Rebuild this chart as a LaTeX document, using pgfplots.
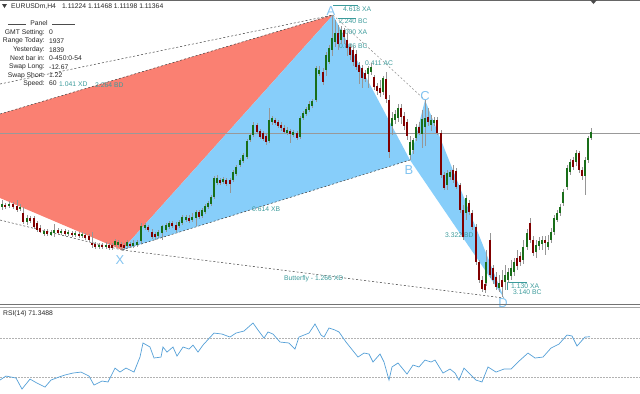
\documentclass[border=0pt]{standalone}
\usepackage{fontspec}
\setmainfont{Liberation Sans}
\usepackage{pgfplots}
\usepackage{pgfplotstable}
\pgfplotsset{compat=1.18}
\definecolor{salmonred}{RGB}{250,128,114}
\definecolor{skyb}{RGB}{135,206,250}
\definecolor{lett}{RGB}{130,195,240}
\definecolor{tealt}{RGB}{60,155,155}
\definecolor{upg}{RGB}{25,110,25}
\definecolor{dnr}{RGB}{128,0,0}
\definecolor{wick}{RGB}{150,150,150}
\definecolor{rsiblue}{RGB}{85,160,215}
\tikzset{
  lab/.style={font=\fontsize{6.8}{8}\selectfont, inner sep=0pt, text=black!85},
  tl/.style={font=\fontsize{6.8}{8}\selectfont, inner sep=0pt, text=tealt},
  big/.style={font=\fontsize{13}{14}\selectfont, inner sep=0pt, text=lett},
  dashln/.style={black!75, line width=0.5bp, dash pattern=on 2bp off 2bp},
}
\pgfplotstableread{
x bt bb h l
2 204 207 200 210
9 204 206 201 208
20 207 209 204 211
27 218 222 215 225
44 231 234 229 236
51 232 235 230 236
54 230 233 224 237
61 231 233 229 235
68 232 234 230 236
75 233 235 231 237
82 234 236 232 238
99 245 247 243 249
106 245 247 242 249
115 241 245 239 247
118 242 245 240 247
127 242 246 240 248
133 243 246 240 248
137 242 245 240 247
141 226 241 223 243
145 225 228 223 230
158 232 236 230 238
162 226 233 225 240
166 225 230 223 232
169 223 227 221 229
179 222 226 220 228
182 217 223 215 225
186 217 220 215 222
192 217 220 213 222
196 212 218 210 226
202 210 216 208 218
205 206 212 204 214
208 203 207 201 209
211 197 204 195 206
214 178 197 176 199
217 178 183 175 185
223 179 182 177 184
233 172 180 170 182
236 167 174 165 176
240 160 165 158 167
243 155 161 153 163
247 141 157 139 159
250 135 140 133 142
253 125 135 122 137
269 120 141 108 143
272 118 122 116 125
287 130 133 127 135
293 132 135 130 137
300 118 137 116 139
303 113 118 111 120
306 109 114 107 116
309 104 110 101 112
312 101 106 99 108
316 68 100 66 102
319 70 74 66 76
326 55 70 52 76
329 48 62 45 64
332 38 50 15 56
335 33 42 20 47
341 30 40 26 44
368 68 74 66 88
371 67 72 63 75
383 78 92 76 95
392 118 126 112 135
395 114 120 110 124
398 108 118 104 122
410 142 155 136 160
413 140 150 138 154
416 127 138 124 141
422 119 134 110 148
425 118 127 100 146
431 120 125 115 131
434 120 123 117 126
447 173 185 170 190
450 172 177 170 180
466 198 213 195 220
486 262 283 250 286
499 283 288 275 292
505 275 282 265 290
508 272 280 268 283
511 268 276 260 280
514 262 272 258 276
523 247 260 240 264
527 233 247 229 250
536 245 252 240 258
539 241 246 237 250
542 240 244 236 250
548 242 247 235 250
551 232 240 228 243
554 218 232 215 235
557 213 220 210 222
560 207 213 204 216
563 192 203 189 206
567 168 187 165 190
570 162 172 159 175
576 153 162 150 166
585 160 176 157 195
588 138 160 136 163
591 132 138 128 140
}\G
\pgfplotstableread{
x bt bb h l
5 205 207 203 209
13 204 207 202 209
17 206 210 200 212
23 213 222 207 224
30 218 221 216 223
34 218 227 216 229
37 223 230 221 232
40 228 232 225 233
47 231 234 229 236
58 230 233 228 235
65 231 234 229 236
72 233 235 231 237
79 234 236 232 238
85 235 238 233 240
89 236 240 234 242
92 243 245 232 248
95 244 247 242 249
102 245 247 243 249
109 245 248 243 250
112 245 248 243 250
121 244 247 242 249
124 245 248 243 250
130 244 246 242 248
148 227 230 225 232
152 232 237 229 239
155 234 237 232 240
172 223 226 221 228
176 225 230 222 232
189 218 221 215 223
199 212 217 210 219
220 180 183 178 185
226 180 184 178 186
230 180 184 178 193
257 125 132 123 134
260 131 137 129 139
263 133 139 131 141
266 136 142 134 145
275 120 123 118 125
278 122 126 120 128
281 125 128 122 131
284 128 132 125 134
290 131 134 129 143
297 133 138 131 140
323 72 82 68 85
338 33 44 25 50
344 30 37 28 44
347 40 48 33 56
350 47 55 44 60
353 50 62 46 66
356 54 67 50 70
359 65 72 62 84
362 68 78 65 88
365 73 79 70 82
374 77 87 75 90
377 86 91 83 95
380 88 93 80 97
386 79 99 72 103
389 100 152 95 158
401 108 117 104 124
404 116 126 112 130
407 122 136 119 140
419 127 133 122 135
428 117 122 108 126
437 120 133 117 135
441 133 175 130 178
444 175 188 172 190
453 170 180 165 183
456 171 187 168 189
460 185 210 183 213
463 210 237 205 240
469 203 212 200 215
472 213 227 210 230
476 227 262 224 265
479 262 280 260 283
482 280 289 276 292
485 284 290 280 293
490 240 275 233 278
493 268 280 265 284
496 277 287 272 290
502 280 287 270 297
517 258 266 250 270
520 256 262 252 266
530 223 240 218 243
533 240 253 236 256
545 240 243 236 255
573 160 167 157 170
579 153 170 151 173
582 170 176 167 180
}\R
\pgfplotstableread{
x r
0 26.9
6 31.0
16 29.0
22 17.7
30 27.9
37 23.8
45 19.7
51 26.9
59 30.0
65 32.1
73 34.1
81 35.1
89 31.0
94 21.8
102 25.9
108 24.9
115 39.2
120 35.1
126 39.2
134 35.1
140 50.5
143 64.9
150 60.8
154 49.5
161 50.5
163 60.8
167 55.6
173 60.8
177 51.5
183 60.8
189 58.7
193 62.8
198 55.6
203 62.8
214 75.1
222 74.1
230 71.0
236 75.1
244 77.2
253 85.4
258 78.2
264 70.0
268 76.2
273 74.1
280 65.9
289 64.9
295 58.7
299 71.0
309 75.1
315 84.4
321 73.1
324 71.0
329 80.3
335 78.2
339 76.2
346 65.9
358 50.5
364 54.6
369 53.6
373 45.4
380 53.6
384 45.4
389 26.9
392 40.3
398 44.4
407 33.1
413 42.3
419 40.3
425 47.4
431 45.4
435 47.4
443 34.1
450 38.2
455 34.1
459 26.9
464 39.2
472 31.0
476 26.9
482 24.9
488 40.3
496 35.1
504 38.2
511 38.2
518 45.4
528 54.6
535 49.5
543 50.5
551 59.7
559 63.8
567 73.1
572 72.1
577 61.8
585 71.0
590 71.35
}\RSI
\begin{document}
\begin{tikzpicture}
\path[use as bounding box] (0,0) rectangle (640bp,-394bp);
\begin{axis}[at={(0,0)}, anchor=north west, scale only axis,
  width=640bp, height=304bp, xmin=0, xmax=640, ymin=0, ymax=304,
  y dir=reverse, hide axis, clip=false]
% harmonic pattern fills
\addplot[fill=salmonred, draw=none] coordinates {(0,114) (333,15) (122,250) (0,198)};
\addplot[fill=skyb, draw=none] coordinates {(122,250) (333,15) (410,160)};
\addplot[fill=skyb, draw=none] coordinates {(410,160) (425,100) (504,298)};
% dashed lines
\addplot[dashln] coordinates {(0,84) (333,15)};
\addplot[dashln] coordinates {(0,114) (333,15)};
\addplot[dashln] coordinates {(0,220) (122,250)};
\addplot[dashln] coordinates {(122,250) (410,160)};
\addplot[dashln] coordinates {(122,250) (504,298)};
\addplot[dashln, black!45] coordinates {(333,15) (425,100)};
% price line
\addplot[black!40, line width=0.7bp] coordinates {(0,133) (640,133)};
% teal labels
\addplot[tealt, line width=0.5bp] coordinates {(333,5.5) (358,5.5)};
\addplot[tealt, line width=0.5bp] coordinates {(338,18) (356,18)};
\addplot[tealt, line width=0.5bp] coordinates {(527,282) (507,282) (507,290)};
\node[tl, anchor=west] at (axis cs:343,8.8) {4.618 XA};
\node[tl, anchor=west] at (axis cs:339,21.5) {2.240 BC};
\node[tl, anchor=west] at (axis cs:339,32.5) {1.000 XA};
\node[tl, anchor=west] at (axis cs:339,46) {0.886 BC};
\node[tl, anchor=west] at (axis cs:365,63) {0.411 AC};
\node[tl, anchor=west] at (axis cs:252,209) {0.614 XB};
\node[tl, anchor=west] at (axis cs:445,235) {3.322 BD};
\node[tl, anchor=west] at (axis cs:284,279) {Butterfly - 1.266 XD};
\node[tl, anchor=west] at (axis cs:511,286) {1.130 XA};
\node[tl, anchor=west] at (axis cs:513,292.5) {3.140 BC};
\node[tl, anchor=west] at (axis cs:95,85) {2.264 BD};
% pattern letters
\node[big] at (axis cs:120,260) {X};
\node[big] at (axis cs:331,11) {A};
\node[big] at (axis cs:409,170) {B};
\node[big] at (axis cs:425,96) {C};
\node[big] at (axis cs:503,303) {D};
% candles: wicks
\addplot[draw=none, mark=none, error bars/.cd, y dir=both, y explicit, error mark=none,
  error bar style={draw=wick, line width=0.8bp, solid}]
  table[x=x, y expr={0.5*(\thisrow{h}+\thisrow{l})}, y error expr={0.5*(\thisrow{l}-\thisrow{h})}] {\G};
\addplot[draw=none, mark=none, error bars/.cd, y dir=both, y explicit, error mark=none,
  error bar style={draw=wick, line width=0.8bp, solid}]
  table[x=x, y expr={0.5*(\thisrow{h}+\thisrow{l})}, y error expr={0.5*(\thisrow{l}-\thisrow{h})}] {\R};
% candles: bodies
\addplot[draw=none, mark=none, error bars/.cd, y dir=both, y explicit, error mark=none,
  error bar style={draw=upg, line width=2.2bp, solid}]
  table[x=x, y expr={0.5*(\thisrow{bt}+\thisrow{bb})}, y error expr={0.5*(\thisrow{bb}-\thisrow{bt})}] {\G};
\addplot[draw=none, mark=none, error bars/.cd, y dir=both, y explicit, error mark=none,
  error bar style={draw=dnr, line width=2.2bp, solid}]
  table[x=x, y expr={0.5*(\thisrow{bt}+\thisrow{bb})}, y error expr={0.5*(\thisrow{bb}-\thisrow{bt})}] {\R};
% header and panel
\addplot[fill=black!75, draw=none] coordinates {(2,4) (7,4) (4.5,8)};
\node[lab, anchor=west] at (axis cs:11,6.5) {EURUSDm,H4};
\node[lab, anchor=west] at (axis cs:62,6.5) {1.11224 1.11468 1.11198 1.11364};
\addplot[black!70, line width=0.5bp] coordinates {(8,24) (26,24)};
\addplot[black!70, line width=0.5bp] coordinates {(52,24) (75,24)};
\node[lab] at (axis cs:39,23.5) {Panel};
\node[lab, anchor=east] at (axis cs:45,32.5) {GMT Setting:};
\node[lab, anchor=east] at (axis cs:45,41) {Range Today:};
\node[lab, anchor=east] at (axis cs:45,50) {Yesterday:};
\node[lab, anchor=east] at (axis cs:45,58.5) {Next bar in:};
\node[lab, anchor=east] at (axis cs:45,67) {Swap Long:};
\node[lab, anchor=east] at (axis cs:45,75.5) {Swap Short:};
\node[lab, anchor=east] at (axis cs:45,83.5) {Speed:};
\node[lab, anchor=west] at (axis cs:49,32.5) {0};
\node[lab, anchor=west] at (axis cs:49,41) {1937};
\node[lab, anchor=west] at (axis cs:49,50) {1839};
\node[lab, anchor=west] at (axis cs:49,58.5) {0-450:0-54};
\node[lab, anchor=west] at (axis cs:49,67) {-12.67};
\node[lab, anchor=west] at (axis cs:49,75.5) {1.22};
\node[lab, anchor=west] at (axis cs:49,83.5) {60};
\node[tl, anchor=west] at (axis cs:59,84) {1.041 XD};
% borders
\addplot[black!60, line width=1bp] coordinates {(0,0.5) (640,0.5)};
\addplot[fill=black!70, draw=none] coordinates {(590,0) (597,0) (593.5,4)};
\addplot[black!55, line width=1bp] coordinates {(0,304.5) (640,304.5)};
\addplot[black!35, line width=0.8bp] coordinates {(0,307.5) (640,307.5)};
\end{axis}
\begin{axis}[at={(0,-308bp)}, anchor=north west, scale only axis,
  width=640bp, height=86bp, xmin=0, xmax=640, ymin=12.6, ymax=100.8,
  hide axis, clip=false]
\addplot[black!30, line width=0.5bp, dash pattern=on 1.5bp off 1.5bp] coordinates {(0,70) (640,70)};
\addplot[black!30, line width=0.5bp, dash pattern=on 1.5bp off 1.5bp] coordinates {(0,30) (640,30)};
\addplot[rsiblue, line width=0.7bp] table[x=x, y=r] {\RSI};
\node[lab, anchor=west] at (axis cs:3,94.6) {RSI(14) 71.3488};
\end{axis}
\end{tikzpicture}
\end{document}
